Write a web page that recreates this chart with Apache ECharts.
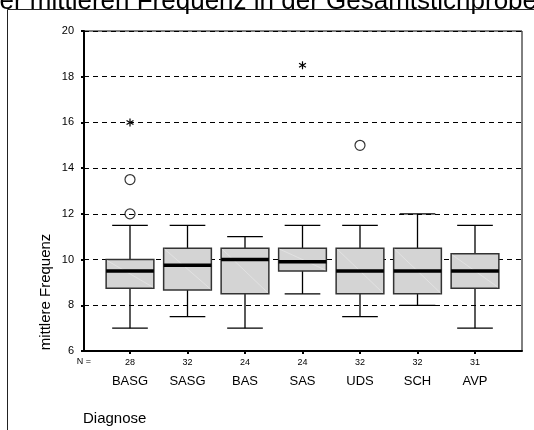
<!DOCTYPE html>
<html>
<head>
<meta charset="utf-8">
<script src="https://cdn.jsdelivr.net/npm/echarts@6/dist/echarts.min.js"></script>
<style>
  html, body { margin: 0; padding: 0; background: #fff; }
  #chart { width: 534px; height: 430px; }
</style>
</head>
<body>
<div id="chart"></div>
<script>
// Diagnosis groups and their case counts
const categories = ['BASG', 'SASG', 'BAS', 'SAS', 'UDS', 'SCH', 'AVP'];
const caseCounts = [28, 32, 24, 24, 32, 32, 31];

// Five-number summaries per group
const whiskerLow  = [7.0, 7.5, 7.0, 8.5, 7.5, 8.0, 7.0];
const quartile1   = [8.75, 8.67, 8.5, 9.5, 8.5, 8.5, 8.75];
const medians     = [9.5, 9.75, 10.0, 9.9, 9.5, 9.5, 9.5];
const quartile3   = [10.0, 10.5, 10.5, 10.5, 10.5, 10.5, 10.25];
const whiskerHigh = [11.5, 11.5, 11.0, 11.5, 11.5, 12.0, 11.5];

// Outliers (circles) and extreme values (asterisks): [group index, value]
const outliers = [[0, 12], [0, 13.5], [4, 15]];
const extremes = [[0, 16], [3, 18.5]];

// Y axis ticks
const yTicks = [6, 8, 10, 12, 14, 16, 18, 20];

const boxData = categories.map((c, i) =>
  [i, whiskerLow[i], quartile1[i], medians[i], quartile3[i], whiskerHigh[i]]);

const chart = echarts.init(document.getElementById('chart'), null, { renderer: 'canvas' });

const FONT = 'Liberation Sans, Arial, sans-serif';

function renderBox(params, api) {
  const i = api.value(0);
  const lo = api.coord([i, api.value(1)]);
  const q1 = api.coord([i, api.value(2)]);
  const md = api.coord([i, api.value(3)]);
  const q3 = api.coord([i, api.value(4)]);
  const hi = api.coord([i, api.value(5)]);
  const band = api.size([1, 0])[0];
  const bw = band * 0.83;
  const cw = band * 0.62;
  const x = lo[0];
  const line = (x1, y1, x2, y2, w, c) => ({
    type: 'line', shape: { x1, y1, x2, y2 },
    style: { stroke: c || '#000', lineWidth: w }
  });
  return {
    type: 'group',
    children: [
      line(x, hi[1], x, q3[1], 1.3),
      line(x, q1[1], x, lo[1], 1.3),
      line(x - cw / 2, hi[1], x + cw / 2, hi[1], 1.3),
      line(x - cw / 2, lo[1], x + cw / 2, lo[1], 1.3),
      {
        type: 'rect',
        shape: { x: x - bw / 2, y: q3[1], width: bw, height: q1[1] - q3[1] },
        style: { fill: '#d4d4d4', stroke: '#333', lineWidth: 1.5 }
      },
      line(x - bw / 2 + 1, q3[1] + 1, x + bw / 2 - 1, q1[1] - 1, 0.8, '#e4e4e4'),
      line(x - bw / 2, md[1], x + bw / 2, md[1], 3.5)
    ]
  };
}

function renderStar(params, api) {
  const p = api.coord([api.value(0), api.value(1)]);
  const r = 4;
  const children = [];
  for (let k = 0; k < 3; k++) {
    const a = Math.PI / 2 + k * Math.PI / 3;
    children.push({
      type: 'line',
      shape: { x1: p[0] - r * Math.cos(a), y1: p[1] - r * Math.sin(a),
               x2: p[0] + r * Math.cos(a), y2: p[1] + r * Math.sin(a) },
      style: { stroke: '#000', lineWidth: 1.2 }
    });
  }
  return { type: 'group', children };
}

const option = {
  backgroundColor: '#fff',
  animation: false,
  grid: [
    { left: 84, right: 12, top: 31, bottom: 79, show: true,
      borderColor: '#000', borderWidth: 1, backgroundColor: 'transparent' },
    { left: 101.25, right: 30.25, top: 31, bottom: 79 }
  ],
  xAxis: [
    { gridIndex: 0, type: 'value', min: 0, max: 1,
      axisLine: { show: true, onZero: false, lineStyle: { color: '#000', width: 2 } },
      axisTick: { show: false }, axisLabel: { show: false }, splitLine: { show: false } },
    { gridIndex: 1, type: 'category', data: categories, boundaryGap: true,
      axisLine: { show: false },
      axisTick: { show: true, alignWithLabel: true, length: 3, lineStyle: { color: '#000', width: 2 } },
      axisLabel: {
        margin: 6,
        interval: 0,
        fontFamily: FONT,
        color: '#000',
        formatter: (v, idx) => '{n|' + caseCounts[idx] + '}\n{c|' + v + '}',
        rich: {
          n: { fontSize: 9, lineHeight: 12, fontFamily: FONT, color: '#000' },
          c: { fontSize: 13, lineHeight: 25, fontFamily: FONT, color: '#000' }
        }
      },
      splitLine: { show: false } }
  ],
  yAxis: [
    { gridIndex: 0, type: 'value', min: yTicks[0], max: yTicks[yTicks.length - 1], interval: 2,
      axisLine: { show: true, lineStyle: { color: '#000', width: 2 } },
      axisTick: { show: true, length: 3, lineStyle: { color: '#000', width: 2 } },
      axisLabel: { fontSize: 11, color: '#000', fontFamily: FONT, margin: 10 },
      splitLine: { show: true, lineStyle: { color: '#000', width: 1, type: [5, 4] } } },
    { gridIndex: 1, type: 'value', min: yTicks[0], max: yTicks[yTicks.length - 1], show: false }
  ],
  graphic: [
    { type: 'rect', shape: { x: 7.5, y: 9.5, width: 600, height: 500 },
      style: { fill: 'none', stroke: '#222', lineWidth: 1 }, silent: true, z: -1 },
    { type: 'text', x: -15, y: 1.5,
      style: { text: 'der mittleren Frequenz in der Gesamtstichprobe', fontSize: 26,
               fontFamily: FONT, fill: '#000', textAlign: 'left', textVerticalAlign: 'middle' } },
    { type: 'text', x: 45.5, y: 292, rotation: Math.PI / 2,
      style: { text: 'mittlere Frequenz', fontSize: 15, fontFamily: FONT, fill: '#000',
               textAlign: 'center', textVerticalAlign: 'middle' } },
    { type: 'text', x: 84, y: 362,
      style: { text: 'N =', fontSize: 9, fontFamily: FONT, fill: '#000',
               textAlign: 'center', textVerticalAlign: 'middle' } },
    { type: 'text', x: 83, y: 419,
      style: { text: 'Diagnose', fontSize: 15, fontFamily: FONT, fill: '#000',
               textAlign: 'left', textVerticalAlign: 'middle' } }
  ],
  series: [
    { type: 'custom', xAxisIndex: 1, yAxisIndex: 1, renderItem: renderBox,
      data: boxData, encode: { x: 0, y: [1, 2, 3, 4, 5] }, z: 3 },
    { type: 'scatter', xAxisIndex: 1, yAxisIndex: 1, data: outliers,
      symbol: 'circle', symbolSize: 10,
      itemStyle: { color: 'transparent', borderColor: '#000', borderWidth: 1.2 }, z: 4 },
    { type: 'custom', xAxisIndex: 1, yAxisIndex: 1, renderItem: renderStar,
      data: extremes, z: 4 }
  ]
};

chart.setOption(option);
</script>
</body>
</html>
